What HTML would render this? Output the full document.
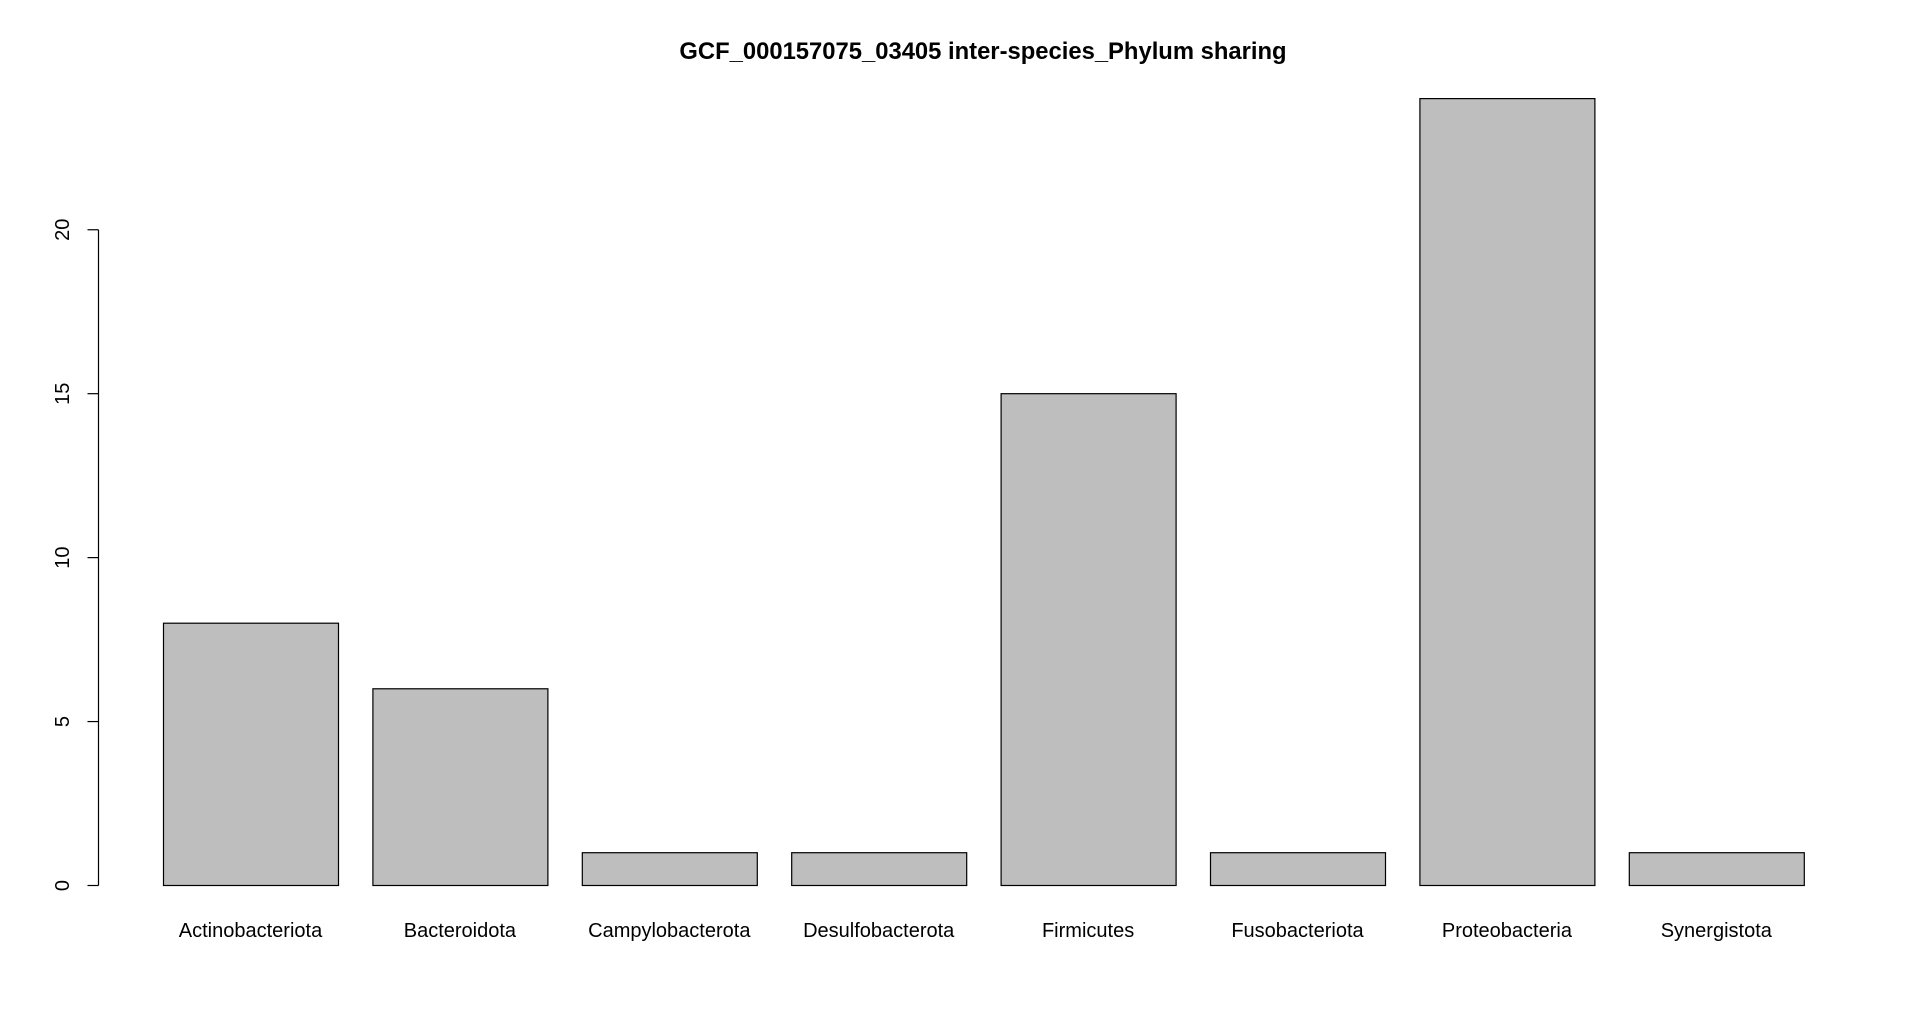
<!DOCTYPE html>
<html><head><meta charset="utf-8"><style>
html,body{margin:0;padding:0;background:#fff;}
svg{display:block;font-family:"Liberation Sans",Arial,sans-serif;}
</style></head><body>
<svg id="chart" width="1920" height="1017" viewBox="0 0 1920 1017" xmlns="http://www.w3.org/2000/svg">
<text x="983" y="59" text-anchor="middle" font-size="23.8" font-weight="bold">GCF_000157075_03405 inter-species_Phylum sharing</text>
<g id="bars"></g>
<g id="yaxis"></g>
<g id="xlabels"></g>
</svg>
<script>
const categories = ["Actinobacteriota","Bacteroidota","Campylobacterota","Desulfobacterota","Firmicutes","Fusobacteriota","Proteobacteria","Synergistota"];
const values = [8,6,1,1,15,1,24,1];
const yTicks = [0,5,10,15,20];
const yTickLabels = ["0","5","10","15","20"];

const NS = "http://www.w3.org/2000/svg";
const y0px = 885.5, unit = (885.5-98.6)/24;
function yScale(v){ return y0px - v*unit; }
const barW = 175, step = 209.4, x0 = 163;
function xScale(i){ return x0 + i*step; }

const bars = document.getElementById('bars');
const xl = document.getElementById('xlabels');
categories.forEach((c,i)=>{
  const r = document.createElementNS(NS,'rect');
  
  
  const top = yScale(values[i]);
  r.setAttribute('x', xScale(i)+0.5);
  r.setAttribute('y', top);
  r.setAttribute('width', barW);
  r.setAttribute('height', y0px-top);
  r.setAttribute('fill', '#bebebe');
  r.setAttribute('stroke', '#000');
  r.setAttribute('stroke-width', '1.2');
  bars.appendChild(r);
  const t = document.createElementNS(NS,'text');
  
  
  t.setAttribute('x', xScale(i)+barW/2);
  t.setAttribute('y', 937);
  t.setAttribute('text-anchor', 'middle');
  t.setAttribute('font-size', '20');
  t.textContent = c;
  xl.appendChild(t);
});

const ya = document.getElementById('yaxis');
const axisX = 98.5;
const line = document.createElementNS(NS,'line');


line.setAttribute('x1', axisX); line.setAttribute('x2', axisX);
line.setAttribute('y1', yScale(yTicks[0])); line.setAttribute('y2', yScale(yTicks[yTicks.length-1]));
line.setAttribute('stroke', '#000'); line.setAttribute('stroke-width', '1.2');
ya.appendChild(line);
yTicks.forEach((v,i)=>{
  const tk = document.createElementNS(NS,'line');
  
  
  tk.setAttribute('x1', axisX); tk.setAttribute('x2', axisX-11);
  tk.setAttribute('y1', yScale(v)); tk.setAttribute('y2', yScale(v));
  tk.setAttribute('stroke', '#000'); tk.setAttribute('stroke-width', '1.2');
  ya.appendChild(tk);
  const t = document.createElementNS(NS,'text');
  
  
  const yy = yScale(v);
  t.setAttribute('transform', 'translate(69,' + yy + ') rotate(-90)');
  t.setAttribute('text-anchor', 'middle');
  t.setAttribute('font-size', '20');
  t.textContent = yTickLabels[i];
  ya.appendChild(t);
});
</script>
</body></html>
